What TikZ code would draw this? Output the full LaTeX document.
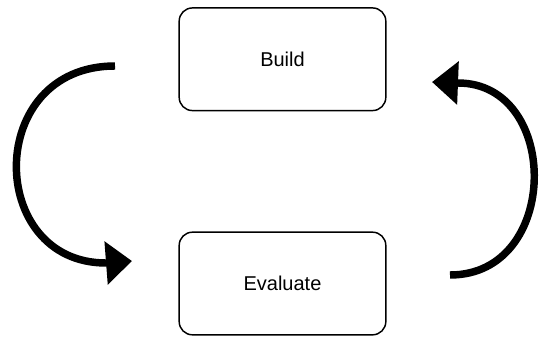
\documentclass[tikz,border=0pt]{standalone}
\usepackage{fontspec}
\setmainfont{Liberation Sans}
\usetikzlibrary{arrows.meta}

\tikzset{
  stage/.style={draw, line width=1.1pt, rounded corners=10pt, minimum width=155pt, minimum height=77pt, inner sep=0pt, font=\fontsize{15}{18}\selectfont},
  cycle arrow/.style={line width=5.6pt, -{Triangle[length=19.5pt,width=31.5pt]}}
}

\begin{document}
\begin{tikzpicture}[x=0.75pt,y=0.75pt,yscale=-1,xscale=1]
\useasboundingbox (0,0) rectangle (539,336);

% Text Node
\node [stage] (build) at (282.5,59.25) {Build};
% Text Node
\node [stage] (evaluate) at (282.5,283.5) {Evaluate};

%Curve Lines
\coordinate (ltop) at (115,66);
\coordinate (lbot) at (106,263);
\coordinate (ltip) at (132,261);
\draw [cycle arrow] (ltop) .. controls (-16,66) and (-14,263) .. (lbot) -- (ltip);

%Curve Lines
\coordinate (rbot) at (450,275);
\coordinate (rtop) at (458,83);
\coordinate (rtip) at (432,82);
\draw [cycle arrow] (rbot) .. controls (561,275) and (561,83) .. (rtop) -- (rtip);

\end{tikzpicture}
\end{document}
